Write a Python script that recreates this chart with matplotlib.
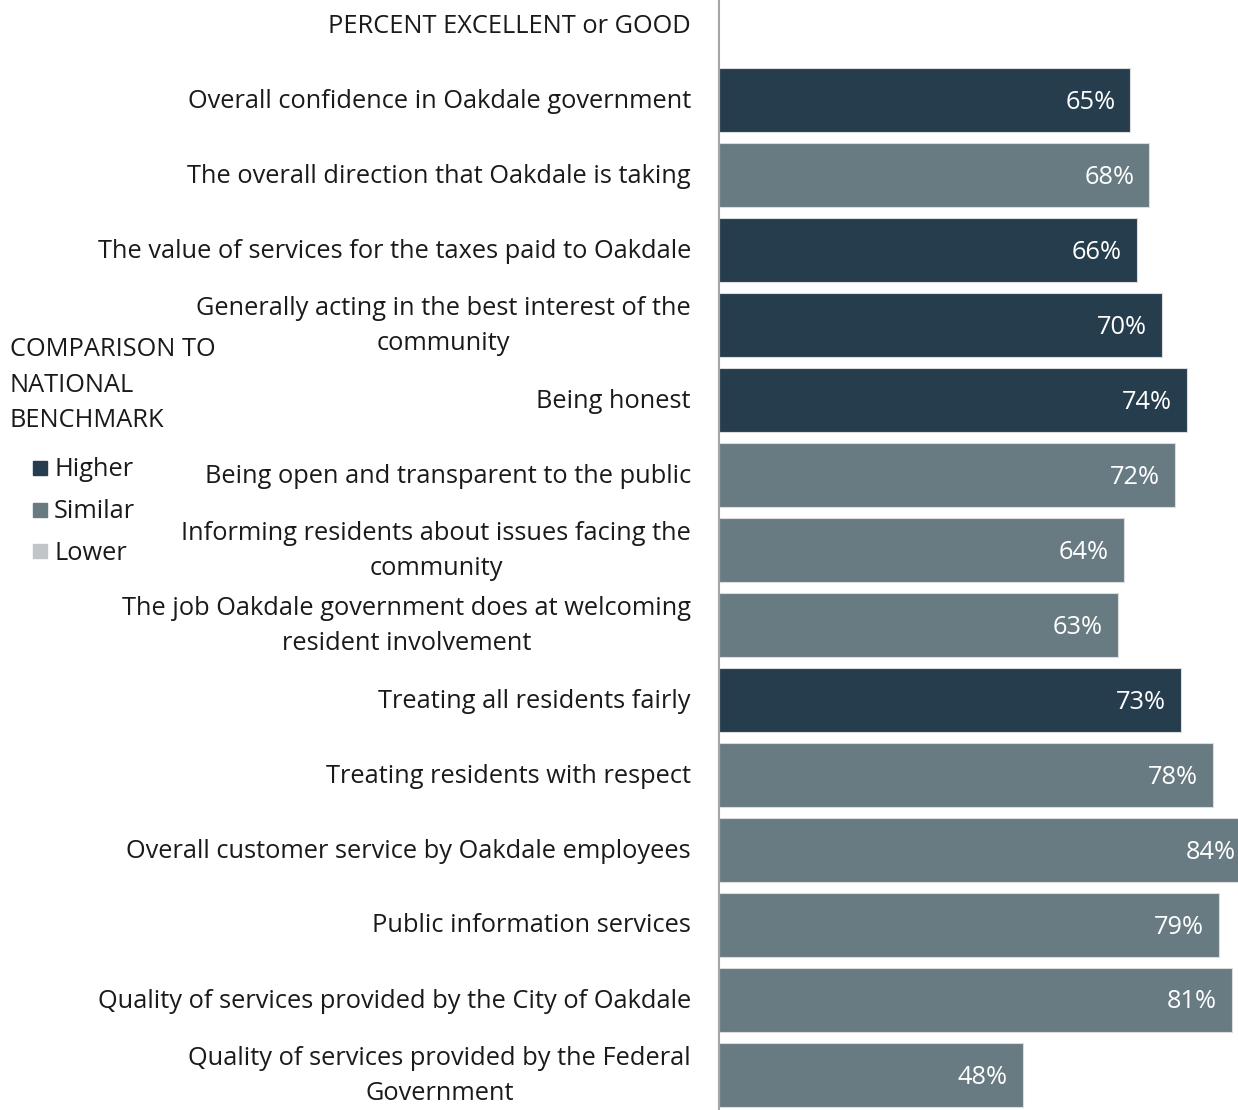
import matplotlib
matplotlib.use("Agg")
import matplotlib.pyplot as plt
from matplotlib.patches import Rectangle

categories = [
    "Overall confidence in Oakdale government",
    "The overall direction that Oakdale is taking",
    "The value of services for the taxes paid to Oakdale",
    "Generally acting in the best interest of the\ncommunity",
    "Being honest",
    "Being open and transparent to the public",
    "Informing residents about issues facing the\ncommunity",
    "The job Oakdale government does at welcoming\nresident involvement",
    "Treating all residents fairly",
    "Treating residents with respect",
    "Overall customer service by Oakdale employees",
    "Public information services",
    "Quality of services provided by the City of Oakdale",
    "Quality of services provided by the Federal\nGovernment",
]
values = [65, 68, 66, 70, 74, 72, 64, 63, 73, 78, 84, 79, 81, 48]
comparison = ["Higher", "Similar", "Higher", "Higher", "Higher", "Similar", "Similar",
              "Similar", "Higher", "Similar", "Similar", "Similar", "Similar", "Similar"]
legend_labels = ["Higher", "Similar", "Lower"]
header = "PERCENT EXCELLENT or GOOD"
legend_title = "COMPARISON TO\nNATIONAL\nBENCHMARK"

colors = {"Higher": "#263d4e", "Similar": "#687b82", "Lower": "#bfc5c8"}
FONT = ["Open Sans", "DejaVu Sans"]
FS = 18.3

W, H = 1238, 1110
fig = plt.figure(figsize=(W / 100, H / 100), dpi=100)
ax_left = 719 / W
ax = fig.add_axes([ax_left, 0, 1 - ax_left, 1])

ypos = list(range(1, len(values) + 1))
ax.barh(ypos, values, height=0.86, color=[colors[c] for c in comparison],
        edgecolor="#dcdcdc", linewidth=0.8)
ax.set_xlim(0, 82.0)
# row i center at pixel 25 + 75*i
ax.set_ylim((H - 25) / 75, -25 / 75)

for sp in ["top", "right", "bottom"]:
    ax.spines[sp].set_visible(False)
ax.spines["left"].set_color("#a6a6a6")
ax.spines["left"].set_linewidth(1.5)
ax.set_xticks([])
ax.set_yticks([])

for y, v in zip(ypos, values):
    ax.annotate(f"{v}%", xy=(v, y), xytext=(-15, -2), textcoords="offset pixels",
                ha="right", va="center", color="white", fontsize=FS, family=FONT,
                annotation_clip=False)

for y, c in zip(ypos, categories):
    ax.annotate(c, xy=(0, y), xytext=(-28, -1), textcoords="offset pixels",
                ha="right", va="center", multialignment="center", fontsize=FS,
                family=FONT, linespacing=1.48, color="#1a1a1a", annotation_clip=False)
ax.annotate(header, xy=(0, 0), xytext=(-28, -1), textcoords="offset pixels",
            ha="right", va="center", fontsize=FS, family=FONT, color="#1a1a1a",
            annotation_clip=False)

# legend
fig.text(10 / W, 1 - 385 / H, legend_title, ha="left", va="center", fontsize=FS,
         family=FONT, linespacing=1.54, color="#1a1a1a")
for i, lab in enumerate(legend_labels):
    yc = [468, 510, 551][i]
    fig.patches.append(Rectangle((33 / W, 1 - (yc + 7) / H), 14 / W, 14 / H,
                                 transform=fig.transFigure, color=colors[lab]))
    fig.text(54 / W, 1 - (yc + 2) / H, lab, ha="left", va="center", fontsize=FS,
             family=FONT, color="#1a1a1a")

fig.savefig("out.png", dpi=100)
